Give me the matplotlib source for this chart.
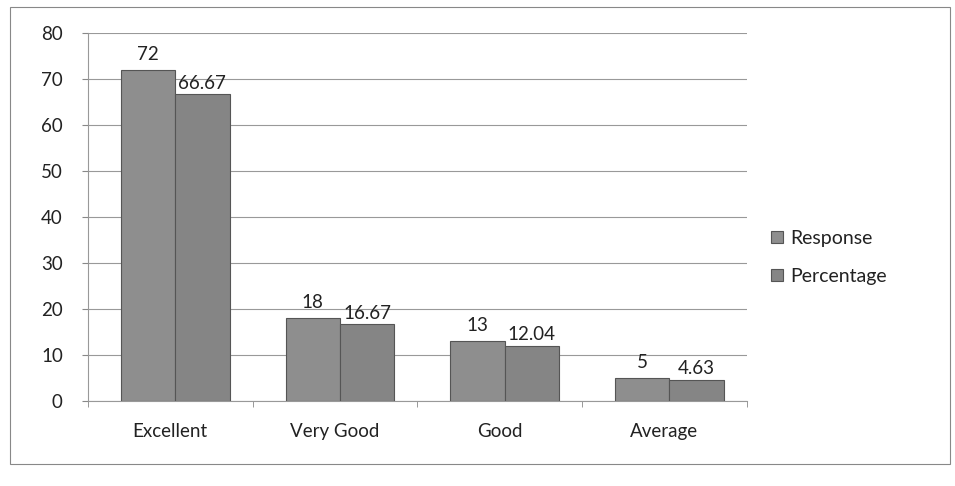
import numpy as np
import matplotlib
matplotlib.use("Agg")
import matplotlib.pyplot as plt

plt.rcParams['font.family'] = ['Lato', 'DejaVu Sans']

categories = ["Excellent", "Very Good", "Good", "Average"]
response = [72, 18, 13, 5]
percentage = [66.67, 16.67, 12.04, 4.63]
labels_response = ["72", "18", "13", "5"]
labels_percentage = ["66.67", "16.67", "12.04", "4.63"]

fig = plt.figure(figsize=(9.55, 4.86), dpi=100)
ax = fig.add_axes([0.092, 0.175, 0.69, 0.757])

x = np.arange(len(categories))
w = 0.33
b1 = ax.bar(x - w / 2 + 0.03, response, w, color="#8e8e8e", edgecolor="#555555", linewidth=0.8, label="Response", zorder=3)
b2 = ax.bar(x + w / 2 + 0.03, percentage, w, color="#858585", edgecolor="#555555", linewidth=0.8, label="Percentage", zorder=3)

for rect, txt in zip(b1, labels_response):
    ax.text(rect.get_x() + rect.get_width() / 2, rect.get_height() + 1.5, txt,
            ha="center", va="bottom", fontsize=13.5, color="#222222")
for rect, txt in zip(b2, labels_percentage):
    ax.text(rect.get_x() + rect.get_width() / 2, rect.get_height() + 0.6, txt,
            ha="center", va="bottom", fontsize=13.5, color="#222222")

ax.set_ylim(0, 80)
ax.set_xlim(-0.5, len(categories) - 0.5)
ax.set_yticks(range(0, 81, 10))
ax.set_xticks(x)
ax.set_xticklabels(categories, fontsize=13.5, color="#222222")
ax.set_xticks(np.arange(-0.5, len(categories), 1), minor=True)
ax.tick_params(axis="x", which="major", length=0, pad=16)
ax.tick_params(axis="x", which="minor", length=4, color="#888888")
ax.tick_params(axis="y", labelsize=13.5, length=4, color="#888888", labelcolor="#222222", pad=14)
ax.grid(axis="y", color="#999999", linewidth=0.8, zorder=0)
for s in ["top", "right"]:
    ax.spines[s].set_visible(False)
ax.spines["left"].set_color("#999999")
ax.spines["bottom"].set_color("#999999")

ax.legend(loc="center left", bbox_to_anchor=(1.01, 0.39), frameon=False, fontsize=14,
          handlelength=0.6, handleheight=0.6, handletextpad=0.4, labelspacing=1.1,
          labelcolor="#222222")

fig.patches.append(plt.Rectangle((0.01, 0.045), 0.985, 0.94, transform=fig.transFigure,
                                 fill=False, edgecolor="#888888", linewidth=0.8))

fig.savefig("out.png", dpi=100)
